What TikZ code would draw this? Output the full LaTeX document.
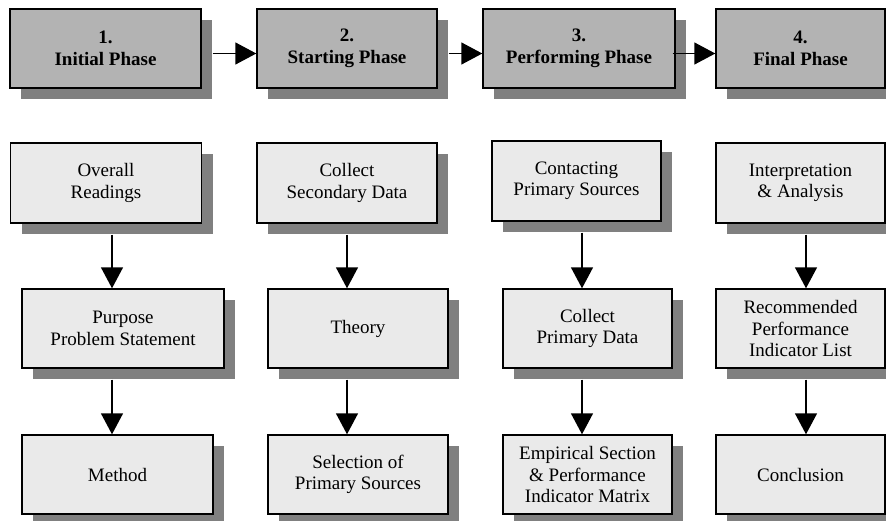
\documentclass[tikz,border=0pt]{standalone}
\usepackage{fontspec}
\setmainfont{Liberation Serif}
\usetikzlibrary{arrows.meta, shadows}
\definecolor{phasefill}{RGB}{179,179,179}
\definecolor{taskfill}{RGB}{234,234,234}
\definecolor{shadegray}{RGB}{128,128,128}

\begin{document}
\begin{tikzpicture}[x=1pt,y=-1pt,
  box/.style={draw, line width=1.4pt, inner sep=0pt, align=center,
    drop shadow={shadow xshift=11pt, shadow yshift=-11pt, fill=shadegray, opacity=1}},
  phase/.style={box, fill=phasefill, font=\fontsize{19}{21.5}\selectfont\bfseries},
  task/.style={box, fill=taskfill, font=\fontsize{19}{21.5}\selectfont},
  flow/.style={line width=1.4pt, -{Triangle[length=21pt,width=22pt]}}]
\useasboundingbox (0,0) rectangle (886,520);
% phases
\node[phase, minimum width=191pt, minimum height=79pt] (p1) at (105.5,48.5) {1.\\Initial Phase};
\node[phase, minimum width=180pt, minimum height=79pt] (p2) at (347,48.5) {2.\\Starting Phase};
\node[phase, minimum width=192pt, minimum height=79pt] (p3) at (579,48.5) {3.\\Performing Phase};
\node[phase, minimum width=169pt, minimum height=79pt] (p4) at (800.5,48.5) {4.\\Final Phase};
\draw[flow] ([xshift=11pt,yshift=-5pt]p1.east) -- ([yshift=-5pt]p2.west);
\draw[flow] ([xshift=11pt,yshift=-5pt]p2.east) -- ([yshift=-5pt]p3.west);
\draw[flow] ([xshift=-3pt,yshift=-5pt]p3.east) -- ([yshift=-5pt]p4.west);
% first row of tasks
\node[task, minimum width=191pt, minimum height=80pt] (r1) at (106,183) {Overall\\Readings};
\node[task, minimum width=180pt, minimum height=80pt] (r2) at (347,183) {Collect\\Secondary Data};
\node[task, minimum width=169pt, minimum height=80pt] (r3) at (576.5,181) {Contacting\\Primary Sources};
\node[task, minimum width=169pt, minimum height=80pt] (r4) at (800.5,183) {Interpretation\\\& Analysis};
% second row
\node[task, minimum width=202pt, minimum height=79pt] (s1) at (123,328.5) {Purpose\\Problem Statement};
\node[task, minimum width=180pt, minimum height=79pt] (s2) at (358,328.5) {Theory};
\node[task, minimum width=169pt, minimum height=79pt] (s3) at (587.5,328.5) {Collect\\Primary Data};
\node[task, minimum width=169pt, minimum height=79pt] (s4) at (800.5,328.5) {Recommended\\Performance\\Indicator List};
% third row
\node[task, minimum width=191pt, minimum height=79pt] (t1) at (117.5,474.5) {Method};
\node[task, minimum width=180pt, minimum height=79pt] (t2) at (358,474.5) {Selection of\\Primary Sources};
\node[task, minimum width=169pt, minimum height=79pt] (t3) at (587.5,474.5) {Empirical Section\\\& Performance\\Indicator Matrix};
\node[task, minimum width=169pt, minimum height=79pt] (t4) at (800.5,474.5) {Conclusion};
% columns of the down arrows
\coordinate (c1) at (112,0);
\coordinate (c2) at (347,0);
\coordinate (c3) at (582,0);
\coordinate (c4) at (806,0);
\draw[flow] ([yshift=-11pt]r1.south -| c1) -- (s1.north -| c1);
\draw[flow] ([yshift=-11pt]r2.south -| c2) -- (s2.north -| c2);
\draw[flow] ([yshift=-11pt]r3.south -| c3) -- (s3.north -| c3);
\draw[flow] ([yshift=-11pt]r4.south -| c4) -- (s4.north -| c4);
\draw[flow] ([yshift=-11pt]s1.south -| c1) -- (t1.north -| c1);
\draw[flow] ([yshift=-11pt]s2.south -| c2) -- (t2.north -| c2);
\draw[flow] ([yshift=-11pt]s3.south -| c3) -- (t3.north -| c3);
\draw[flow] ([yshift=-11pt]s4.south -| c4) -- (t4.north -| c4);
\end{tikzpicture}
\end{document}
